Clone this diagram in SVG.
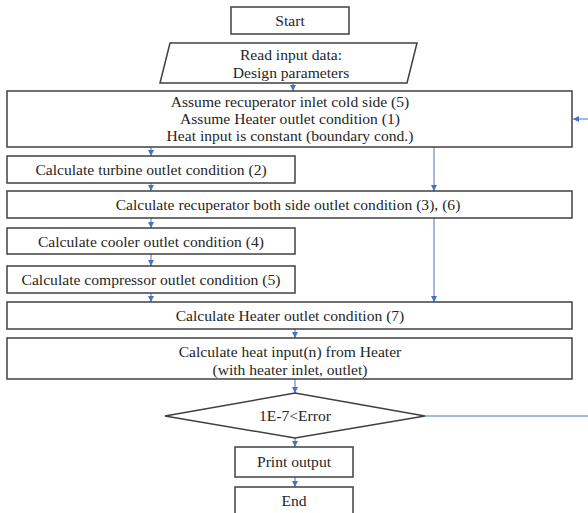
<svg xmlns="http://www.w3.org/2000/svg" width="588" height="513" viewBox="0 0 588 513">
<style>
.n{fill:#fff;stroke:#404040;stroke-width:1.5}
.t{font-family:"Liberation Serif","DejaVu Serif",serif;font-size:15.6px;fill:#262626;text-anchor:middle}
.c{stroke:#4472C4;stroke-width:1;fill:none}
</style>
<defs>
<marker id="a" viewBox="0 0 10 10" refX="10" refY="5" markerWidth="6" markerHeight="6" orient="auto" markerUnits="userSpaceOnUse">
<path d="M0,0 L10,5 L0,10 z" fill="#4472C4"/>
</marker>
</defs>
<rect width="588" height="513" fill="#fff"/>
<g id="connectors">
<line class="c" x1="293" y1="83" x2="293" y2="91" marker-end="url(#a)"/>
<line class="c" x1="151" y1="147" x2="151" y2="156" marker-end="url(#a)"/>
<line class="c" x1="151" y1="183" x2="151" y2="191" marker-end="url(#a)"/>
<line class="c" x1="434" y1="147" x2="434" y2="191" marker-end="url(#a)"/>
<line class="c" x1="151" y1="218" x2="151" y2="228" marker-end="url(#a)"/>
<line class="c" x1="151" y1="254" x2="151" y2="266" marker-end="url(#a)"/>
<line class="c" x1="151" y1="293" x2="151" y2="302" marker-end="url(#a)"/>
<line class="c" x1="434" y1="218" x2="434" y2="302" marker-end="url(#a)"/>
<line class="c" x1="295" y1="329" x2="295" y2="338" marker-end="url(#a)"/>
<line class="c" x1="295" y1="379" x2="295" y2="393" marker-end="url(#a)"/>
<line class="c" x1="295" y1="438" x2="295" y2="447" marker-end="url(#a)"/>
<line class="c" x1="295" y1="477" x2="295" y2="487" marker-end="url(#a)"/>
<line class="c" x1="425" y1="416" x2="588" y2="416"/>
<line class="c" x1="588" y1="119" x2="573" y2="119" marker-end="url(#a)"/>
</g>
<g id="start"><rect class="n" x="231" y="7" width="118" height="27"/><text class="t" x="290" y="26">Start</text></g>
<g id="read"><polygon class="n" points="170,43 417,43 407,83 160,83"/><text class="t" x="291" y="60">Read input data:</text><text class="t" x="291" y="78">Design parameters</text></g>
<g id="assume"><rect class="n" x="7" y="91" width="565" height="56"/><text class="t" x="290" y="107">Assume recuperator inlet cold side (5)</text><text class="t" x="290" y="124">Assume Heater outlet condition (1)</text><text class="t" x="290" y="141">Heat input is constant (boundary cond.)</text></g>
<g id="turbine"><rect class="n" x="7" y="156" width="288" height="27"/><text class="t" x="151" y="175">Calculate turbine outlet condition (2)</text></g>
<g id="recuperator"><rect class="n" x="7" y="191" width="565" height="27"/><text class="t" x="288" y="210">Calculate recuperator both side outlet condition (3), (6)</text></g>
<g id="cooler"><rect class="n" x="7" y="228" width="288" height="26"/><text class="t" x="151" y="247">Calculate cooler outlet condition (4)</text></g>
<g id="compressor"><rect class="n" x="7" y="266" width="288" height="27"/><text class="t" x="151" y="285">Calculate compressor outlet condition (5)</text></g>
<g id="heater"><rect class="n" x="7" y="302" width="565" height="27"/><text class="t" x="290" y="321">Calculate Heater outlet condition (7)</text></g>
<g id="heatinput"><rect class="n" x="7" y="338" width="565" height="41"/><text class="t" x="290" y="357">Calculate heat input(n) from Heater</text><text class="t" x="290" y="375">(with heater inlet, outlet)</text></g>
<g id="decision"><polygon class="n" points="165,416 295,393 425,416 295,438"/><text class="t" x="295" y="421">1E-7&lt;Error</text></g>
<g id="print"><rect class="n" x="235" y="447" width="118" height="30"/><text class="t" x="294" y="467">Print output</text></g>
<g id="end"><rect class="n" x="235" y="487" width="118" height="32"/><text class="t" x="294" y="506">End</text></g>
</svg>
